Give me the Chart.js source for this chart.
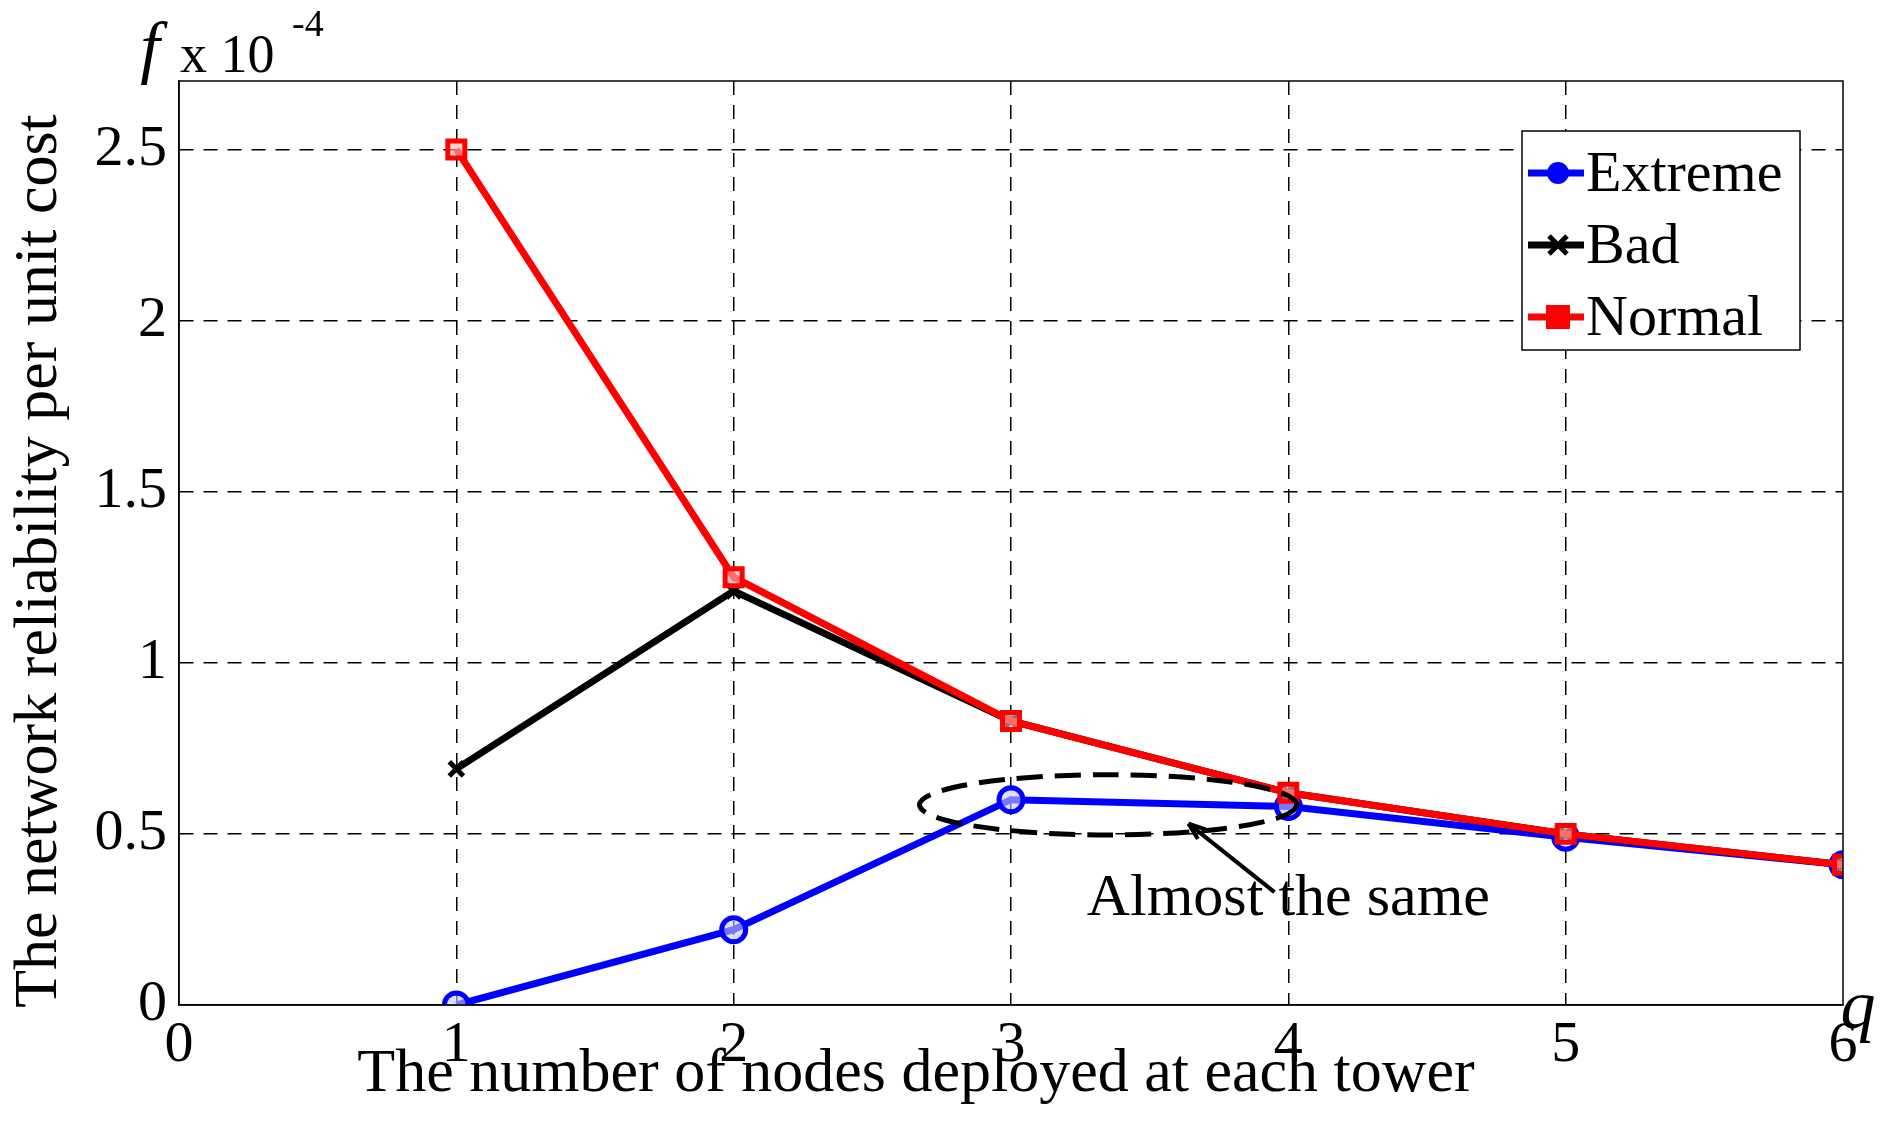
<!DOCTYPE html>
<html>
<head>
<meta charset="utf-8">
<script src="https://cdn.jsdelivr.net/npm/chart.js@4"></script>
<style>
  html, body { margin: 0; padding: 0; background: #fff; }
  #wrap { width: 1893px; height: 1125px; }
</style>
</head>
<body>
<div id="wrap"><canvas id="chart"></canvas></div>
<script>
const qValues = [1, 2, 3, 4, 5, 6];
const extreme = [0, 0.22, 0.60, 0.58, 0.49, 0.41];
const bad = [0.69, 1.21, 0.83, 0.62, 0.50, 0.41];
const normal = [2.50, 1.25, 0.83, 0.62, 0.50, 0.41];
const yTicks = [0, 0.5, 1, 1.5, 2, 2.5];
const xTicks = [0, 1, 2, 3, 4, 5, 6];

const serif = "'Liberation Serif', 'DejaVu Serif', serif";

function pts(vals) {
  return vals.map((v, i) => ({ x: qValues[i], y: v }));
}

// frame, axis letters, annotation and legend
const extras = {
  id: "extras",
  afterDraw(chart) {
    const ctx = chart.ctx;
    const a = chart.chartArea;
    const xs = chart.scales.x, ys = chart.scales.y;
    ctx.save();
    ctx.strokeStyle = "#000";
    ctx.lineWidth = 1.5;
    ctx.setLineDash([]);
    ctx.strokeRect(a.left, a.top, a.right - a.left, a.bottom - a.top);

    // ellipse around points 3-4
    ctx.lineWidth = 5;
    ctx.setLineDash([26, 12]);
    const cx = xs.getPixelForValue(3.35), cy = ys.getPixelForValue(0.585);
    const rx = xs.getPixelForValue(3.35 + 0.68) - cx;
    const ry = cy - ys.getPixelForValue(0.585 + 0.088);
    ctx.beginPath();
    ctx.ellipse(cx, cy, rx, ry, 0, 0, Math.PI * 2);
    ctx.stroke();
    ctx.setLineDash([]);
    ctx.lineWidth = 4;
    const x1 = xs.getPixelForValue(3.64), y1 = ys.getPixelForValue(0.53);
    const x2 = xs.getPixelForValue(3.95), y2 = ys.getPixelForValue(0.33);
    ctx.beginPath(); ctx.moveTo(x1, y1); ctx.lineTo(x2, y2); ctx.stroke();
    const ang = Math.atan2(y1 - y2, x1 - x2);
    ctx.beginPath();
    ctx.moveTo(x1, y1);
    ctx.lineTo(x1 - 18 * Math.cos(ang - 0.35), y1 - 18 * Math.sin(ang - 0.35));
    ctx.moveTo(x1, y1);
    ctx.lineTo(x1 - 18 * Math.cos(ang + 0.35), y1 - 18 * Math.sin(ang + 0.35));
    ctx.stroke();

    ctx.fillStyle = "#000";
    ctx.font = "60px " + serif;
    ctx.textAlign = "center";
    ctx.textBaseline = "middle";
    ctx.fillText("Almost the same", xs.getPixelForValue(4.0), ys.getPixelForValue(0.31));

    // axis titles
    ctx.font = "62px " + serif;
    ctx.fillText("The number of nodes deployed at each tower", 916, 1075);
    ctx.save();
    ctx.translate(40, 561);
    ctx.rotate(-Math.PI / 2);
    ctx.fillText("The network reliability per unit cost", 0, 0);
    ctx.restore();

    ctx.font = "italic 70px " + serif;
    ctx.fillText("q", 1858, 1010);
    ctx.fillText("f", 150, 52);
    ctx.font = "54px " + serif;
    ctx.textAlign = "left";
    ctx.fillText("x 10", 180, 58);
    ctx.font = "38px " + serif;
    ctx.fillText("-4", 292, 26);

    // legend
    const lx = 1522, ly = 131, lw = 278, lh = 219;
    ctx.fillStyle = "#fff";
    ctx.fillRect(lx, ly, lw, lh);
    ctx.lineWidth = 1.5;
    ctx.strokeStyle = "#000";
    ctx.strokeRect(lx, ly, lw, lh);
    const items = [
      ["Extreme", "#0000ff", "circle"],
      ["Bad", "#000000", "cross"],
      ["Normal", "#ff0000", "rect"]
    ];
    ctx.font = "58px " + serif;
    items.forEach((it, i) => {
      const yy = ly + 42 + i * 72;
      ctx.strokeStyle = it[1];
      ctx.fillStyle = it[1];
      ctx.lineWidth = 7;
      ctx.beginPath(); ctx.moveTo(lx + 6, yy); ctx.lineTo(lx + 62, yy); ctx.stroke();
      const mx = lx + 36;
      ctx.lineWidth = 5;
      if (it[2] === "circle") {
        ctx.beginPath(); ctx.arc(mx, yy, 11, 0, Math.PI * 2); ctx.fill();
      } else if (it[2] === "rect") {
        ctx.fillRect(mx - 12, yy - 12, 24, 24);
      } else {
        ctx.beginPath();
        ctx.moveTo(mx - 9, yy - 9); ctx.lineTo(mx + 9, yy + 9);
        ctx.moveTo(mx + 9, yy - 9); ctx.lineTo(mx - 9, yy + 9);
        ctx.stroke();
      }
      ctx.fillStyle = "#000";
      ctx.fillText(it[0], lx + 64, yy + 3);
    });
    ctx.restore();
  }
};

new Chart(document.getElementById("chart"), {
  type: "line",
  data: {
    datasets: [
      {
        label: "Extreme", data: pts(extreme),
        borderColor: "#0000ff", backgroundColor: "rgba(200,200,255,0.6)",
        borderWidth: 7, pointStyle: "circle", pointRadius: 12, pointBorderWidth: 5, order: 3
      },
      {
        label: "Bad", data: pts(bad),
        borderColor: "#000000", backgroundColor: "#000000",
        borderWidth: 7, pointStyle: "crossRot", pointRadius: 10, pointBorderWidth: 5, order: 2
      },
      {
        label: "Normal", data: pts(normal),
        borderColor: "#ff0000", backgroundColor: "rgba(255,180,180,0.6)",
        borderWidth: 7, pointStyle: "rect", pointRadius: 12, pointBorderWidth: 5, order: 1
      }
    ]
  },
  options: {
    responsive: true,
    maintainAspectRatio: false,
    animation: false,
    layout: { padding: { top: 81, right: 50, left: 0, bottom: 0 } },
    plugins: { legend: { display: false }, tooltip: { enabled: false } },
    scales: {
      x: {
        type: "linear", min: 0, max: 6,
        afterBuildTicks: s => { s.ticks = xTicks.map(v => ({ value: v })); },
        afterFit: s => { s.height = 120; },
        ticks: { font: { family: serif, size: 58 }, color: "#000", padding: 6 },
        grid: {
          color: c => (c.tick && (c.tick.value === 0 || c.tick.value === 6)) ? "rgba(0,0,0,0)" : "#000",
          lineWidth: 1.5, drawTicks: false
        },
        border: { display: true, color: "#000", width: 1.5, dash: [14, 10] }
      },
      y: {
        min: 0, max: 2.7,
        afterBuildTicks: s => { s.ticks = yTicks.map(v => ({ value: v })); },
        afterFit: s => { s.width = 179; },
        ticks: { font: { family: serif, size: 58 }, color: "#000", padding: 12, callback: v => String(v) },
        grid: {
          color: c => (c.tick && c.tick.value === 0) ? "rgba(0,0,0,0)" : "#000",
          lineWidth: 1.5, drawTicks: false
        },
        border: { display: true, color: "#000", width: 1.5, dash: [14, 10] }
      }
    }
  },
  plugins: [extras]
});
</script>
</body>
</html>
